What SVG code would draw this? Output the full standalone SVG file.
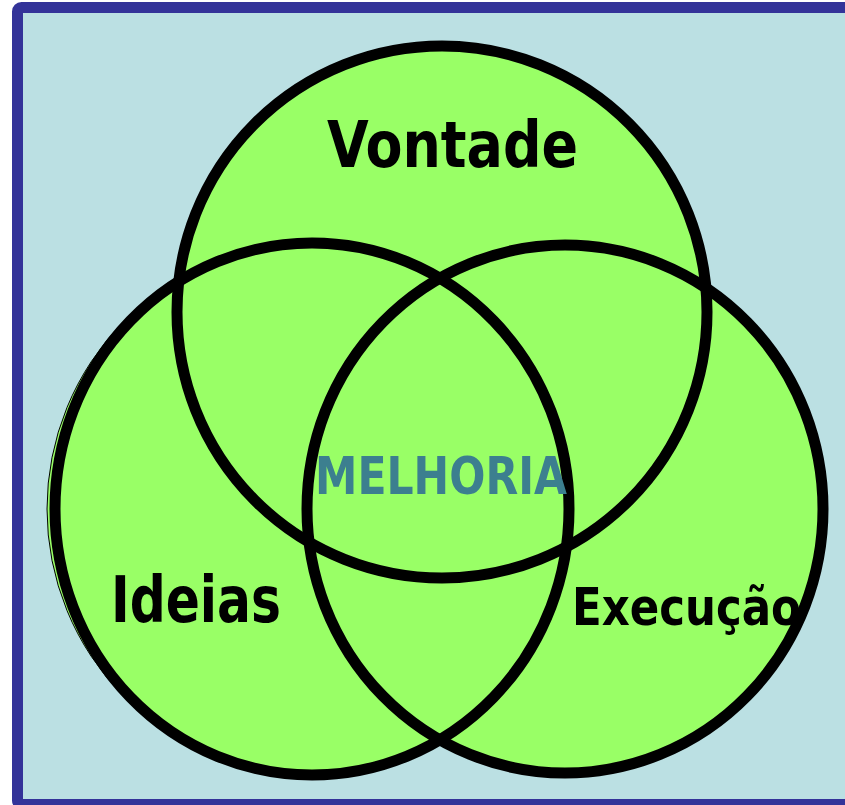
<svg xmlns="http://www.w3.org/2000/svg" width="845" height="805" viewBox="0 0 845 805">
<style>
.fill{fill:#99FF66;stroke:none}
.ring{fill:none;stroke:#000;stroke-width:11}
.lbl{font-family:"DejaVu Sans Condensed","DejaVu Sans",sans-serif;font-weight:bold;fill:#000}
.mid{fill:#3C7F8F}
</style>
<rect x="0" y="0" width="845" height="805" fill="#FFFFFF"/>
<rect x="17.5" y="7.5" width="900" height="797" rx="4" fill="#BBE0E3" stroke="#333399" stroke-width="11"/>
<g id="shadow">
<ellipse cx="309" cy="509" rx="262" ry="265" fill="#99FF66" stroke="#000" stroke-width="1"/>
</g>
<g id="fills">
<ellipse class="fill" cx="442" cy="312" rx="265" ry="266"/>
<ellipse class="fill" cx="312" cy="509" rx="257" ry="266"/>
<ellipse class="fill" cx="565" cy="509" rx="258" ry="264"/>
</g>
<g id="connectors"></g>
<g id="vontade">
<ellipse class="ring" cx="442" cy="312" rx="265" ry="266"/>
<text class="lbl" x="327" y="167" font-size="64" textLength="251" lengthAdjust="spacingAndGlyphs">Vontade</text>
</g>
<g id="ideias">
<ellipse class="ring" cx="312" cy="509" rx="257" ry="266"/>
<text class="lbl" x="111" y="622" font-size="64" textLength="170" lengthAdjust="spacingAndGlyphs">Ideias</text>
</g>
<g id="execucao">
<ellipse class="ring" cx="565" cy="509" rx="258" ry="264"/>
<text class="lbl" x="572" y="625" font-size="52" textLength="229" lengthAdjust="spacingAndGlyphs">Execução</text>
</g>
<g id="melhoria">
<text class="lbl mid" x="315" y="494" font-size="51" textLength="252" lengthAdjust="spacingAndGlyphs">MELHORIA</text>
</g>
</svg>
